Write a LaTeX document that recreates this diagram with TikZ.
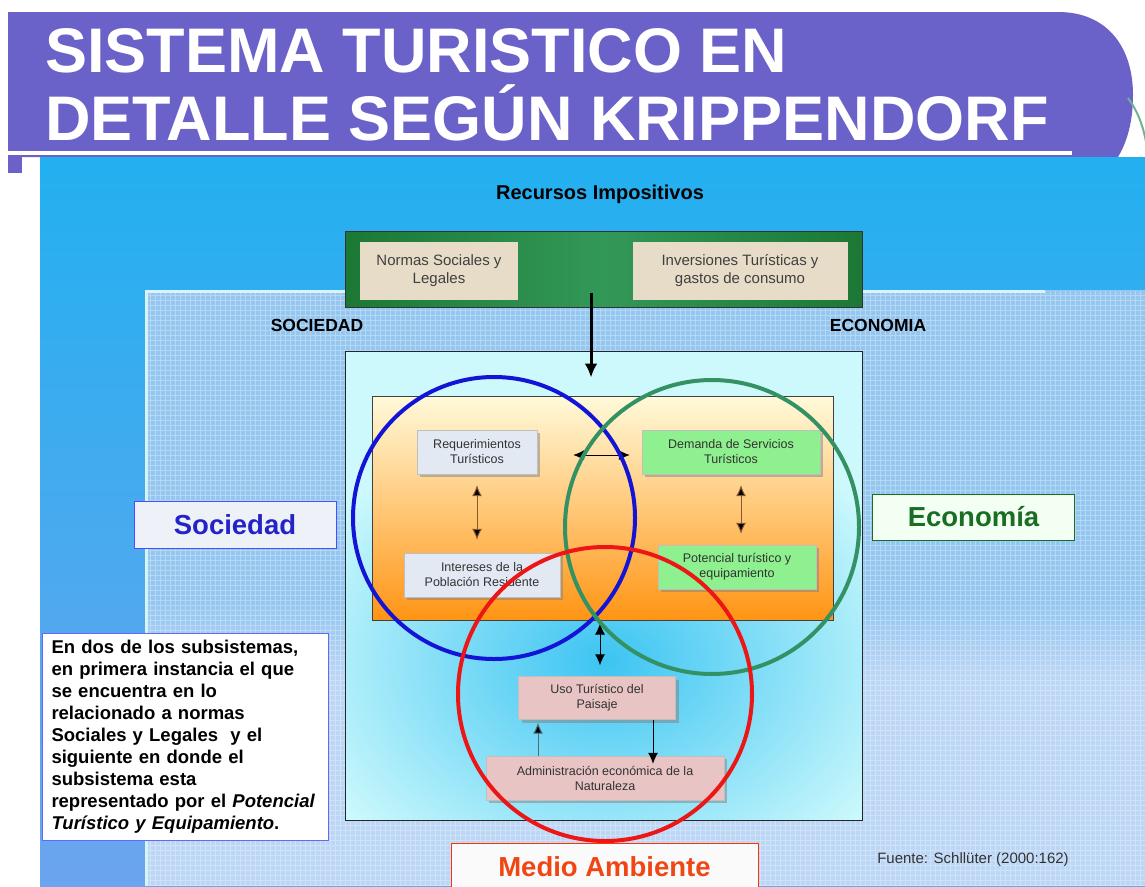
\documentclass[tikz,border=0pt]{standalone}
\usepackage{fontspec}
\setmainfont{Liberation Sans}
\usetikzlibrary{arrows.meta,shadows}

\definecolor{morado}{RGB}{106,98,201}
\definecolor{celeste}{RGB}{34,176,240}
\definecolor{azulbajo}{RGB}{108,164,238}
\definecolor{reja}{RGB}{148,198,240}
\definecolor{rejabaja}{RGB}{188,214,245}
\definecolor{verdeosc}{RGB}{28,120,52}
\definecolor{verdeclaro}{RGB}{50,152,88}
\definecolor{beige}{RGB}{230,220,200}
\definecolor{marcofondo}{RGB}{205,249,252}
\definecolor{brillo}{RGB}{60,196,242}
\definecolor{naranjaalto}{RGB}{255,250,218}
\definecolor{naranjamedio}{RGB}{255,200,120}
\definecolor{naranjabajo}{RGB}{255,148,20}
\definecolor{cajagris}{RGB}{226,233,243}
\definecolor{cajaverde}{RGB}{142,240,142}
\definecolor{cajarosa}{RGB}{232,196,196}
\definecolor{aroazul}{RGB}{20,20,215}
\definecolor{aroverde}{RGB}{52,145,100}
\definecolor{arorojo}{RGB}{236,22,22}
\definecolor{textoazul}{RGB}{35,35,200}
\definecolor{textoverde}{RGB}{25,110,35}
\definecolor{textorojo}{RGB}{240,70,20}
\definecolor{astil}{RGB}{80,108,118}

\begin{document}
\begin{tikzpicture}[x=1pt,y=-1pt,
  every node/.style={inner sep=0pt},
  caja/.style={draw=black!25, align=center, minimum height=44pt, text=black!80,
    font=\fontsize{12.5}{15}\selectfont,
    drop shadow={shadow xshift=3pt, shadow yshift=-3pt, fill=black!50}},
  social/.style={caja, fill=cajagris},
  economica/.style={caja, fill=cajaverde},
  ambiental/.style={caja, fill=cajarosa},
  recurso/.style={fill=beige, align=center, minimum width=#1, minimum height=58pt,
    text=black!75, font=\fontsize{15}{18}\selectfont},
  rotulo/.style={draw=#1, line width=1pt, minimum height=47pt, minimum width=202pt,
    font=\fontsize{27.5}{30}\selectfont\bfseries},
  aro/.style={draw=#1, line width=4pt},
  doble/.style={{Latex[length=11pt,width=10pt,fill=black]}-{Latex[length=11pt,width=10pt,fill=black]}, line width=1pt},
  simple/.style={-{Latex[length=11pt,width=10pt,fill=black]}, line width=1pt}]
\useasboundingbox (0,0) rectangle (1145,886);

% cabecera
\fill[morado] (8,12) -- (1058,12) .. controls (1108,12) and (1133,48) .. (1133,95)
  .. controls (1133,122) and (1127,142) .. (1118,157) -- (8,157) -- cycle;
\draw[aroverde!70, line width=2pt] (1128,98) .. controls (1137,110) and (1143,125) .. (1146,142);
\node[anchor=base west, text=white, font=\fontsize{63}{68}\selectfont\bfseries] (titulo1)
  at (45,72) {SISTEMA TURISTICO EN};
\node[anchor=base west, text=white, font=\fontsize{63}{68}\selectfont\bfseries] (titulo2)
  at (45,140) {DETALLE SEGÚN KRIPPENDORF};
\fill[white] (8,151) rectangle (1072,155);
\fill[morado] (8,157) rectangle (22,173);

% fondo
\shade[top color=celeste, bottom color=azulbajo] (40,157) rectangle (1145,886);
\fill[reja] (145,290) rectangle (1145,600);
\shade[top color=reja, bottom color=rejabaja] (145,600) rectangle (1145,680);
\fill[rejabaja] (145,680) rectangle (1145,886);
\draw[white, opacity=0.3, line width=0.5pt, step=5pt] (146,291) grid (1145,886);
\draw[white!85!cyan, line width=3pt] (146,886) -- (146,291) -- (1045,291);

% recursos impositivos
\node[font=\fontsize{20}{24}\selectfont\bfseries] (recursos) at (600,194) {Recursos Impositivos};
\node[draw=black!80, line width=1pt, minimum width=517pt, minimum height=76pt,
  left color=verdeosc, right color=verdeosc, middle color=verdeclaro] (impositivo) at (603.5,269) {};
\node[recurso=158pt] (normas) at (439,271) {Normas Sociales y\\Legales};
\node[recurso=215pt] (inversiones) at (740,271) {Inversiones Turísticas y\\gastos de consumo};

\node[font=\fontsize{17.5}{20}\selectfont\bfseries] (sociedadsup) at (317,325) {SOCIEDAD};
\node[font=\fontsize{17.5}{20}\selectfont\bfseries] (economiasup) at (878,325) {ECONOMIA};

% marco central
\fill[marcofondo] (345,351) rectangle (862,820);
\begin{scope}
  \clip (345,351) rectangle (862,820);
  \shade[inner color=brillo, outer color=marcofondo] (605,660) ellipse (330 and 250);
\end{scope}
\node[draw=black!85, line width=1pt, minimum width=517pt, minimum height=469pt] (marco) at (603.5,585.5) {};
\node[draw=black!75, line width=1pt, minimum width=461pt, minimum height=224pt,
  top color=naranjaalto, bottom color=naranjabajo, middle color=naranjamedio] (nucleo) at (602.5,508) {};

\node[social, minimum width=120pt] (requerimientos) at (477,452) {Requerimientos\\Turísticos};
\node[social, minimum width=156pt] (intereses) at (482,575) {Intereses de la\\Población Residente};
\node[economica, minimum width=178pt] (demanda) at (731,452) {Demanda de Servicios\\Turísticos};
\node[economica, minimum width=158pt] (potencial) at (737,567) {Potencial turístico y\\equipamiento};
\node[ambiental, minimum width=157pt, minimum height=43pt] (uso) at (597,698) {Uso Turístico del\\Paisaje};
\node[ambiental, minimum width=238pt] (administracion) at (605,778) {Administración económica de la\\Naturaleza};

% flechas
\draw[-{Latex[length=14pt,width=13pt]}, line width=3pt, shorten <=-15pt, shorten >=-27pt]
  ([xshift=-12.5pt]impositivo.south) -- ([xshift=-12.5pt]impositivo.south |- marco.north);
\draw[doble, draw=brown!70!black, shorten <=11pt, shorten >=13pt]
  (requerimientos.south) -- (requerimientos.south |- intereses.north);
\draw[doble, draw=brown!70!black, shorten <=11pt, shorten >=11pt]
  ([xshift=10pt]demanda.south) -- ([xshift=10pt]demanda.south |- potencial.north);
\draw[doble, shorten <=36pt, shorten >=12pt]
  ([yshift=-3pt]requerimientos.east) -- ([yshift=-3pt]requerimientos.east -| demanda.west);
\draw[doble, shorten <=3pt, shorten >=11pt]
  ([xshift=3pt]uso.north |- nucleo.south) -- ([xshift=3pt]uso.north);
\draw[simple, draw=astil, shorten >=3pt]
  ([xshift=-67pt]administracion.north) -- ([xshift=-67pt]administracion.north |- uso.south);
\draw[simple, shorten >=-8pt]
  ([xshift=56pt]uso.south) -- ([xshift=56pt]uso.south |- administracion.north);

% subsistemas
\draw[aro=aroazul] (494,518) circle (141);
\draw[aro=aroverde] (712,527) circle (147);
\draw[aro=arorojo] (605,694) circle (147);

\node[rotulo=blue!70, fill=cajagris!60, text=textoazul] (sociedad) at (235,524.5) {Sociedad};
\node[rotulo=textoverde, fill=green!5!white, text=textoverde, minimum height=46pt] (economia) at (973.5,517) {Economía};
\node[rotulo=red!60!orange, fill=white!96!gray, text=textorojo, minimum width=307pt, minimum height=52pt,
  text depth=4pt] (ambiente) at (604.5,869) {Medio Ambiente};

\node[draw=blue!60, line width=1pt, fill=white, anchor=north west, inner xsep=9pt, inner ysep=7pt,
  text width=268pt, align=left, font=\fontsize{18.5}{22}\selectfont\bfseries] (nota) at (42,633)
  {En dos de los subsistemas,\\ en primera instancia el que\\ se encuentra en lo\\ relacionado a normas\\
   Sociales y Legales\ \ y el\\ siguiente en donde el\\ subsistema esta\\
   representado por el \textit{Potencial}\\ \textit{Turístico y Equipamiento}.};

\node[font=\fontsize{15}{18}\selectfont, text=black!80] (fuente) at (973,860) {Fuente: Schllüter (2000:162)};
\end{tikzpicture}
\end{document}
